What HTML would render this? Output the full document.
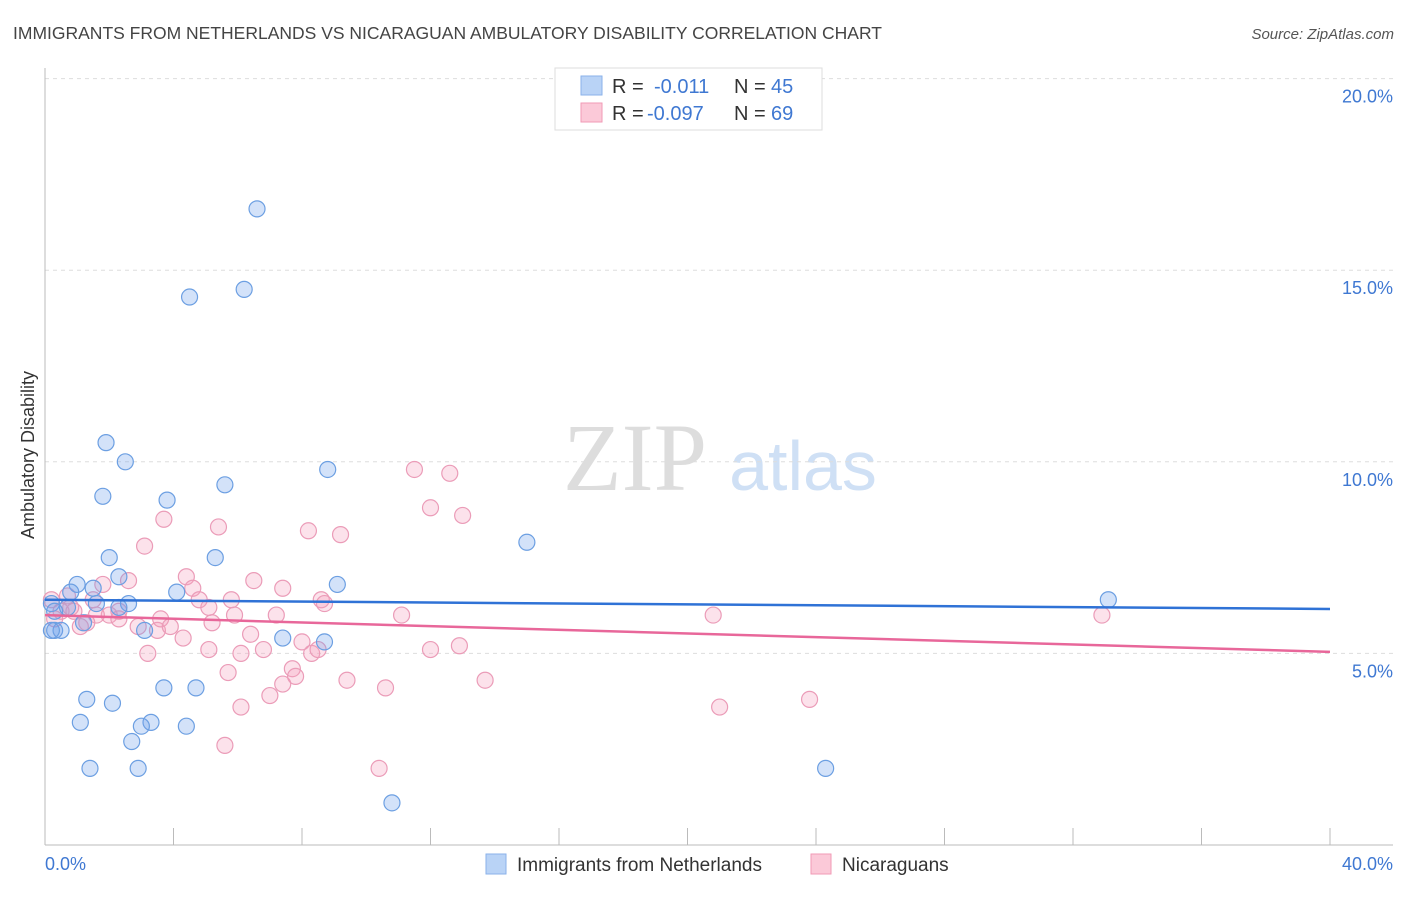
<!DOCTYPE html>
<html><head><meta charset="utf-8"><style>
body{margin:0;background:#fff;font-family:"Liberation Sans",sans-serif;}
svg text{font-family:"Liberation Sans",sans-serif;}
</style></head><body>
<svg id="chart" width="1406" height="892" xmlns="http://www.w3.org/2000/svg">
<text x="13" y="39" font-size="17.5" fill="#444">IMMIGRANTS FROM NETHERLANDS VS NICARAGUAN AMBULATORY DISABILITY CORRELATION CHART</text>
<text x="1394" y="39" font-size="15" fill="#555" font-style="italic" text-anchor="end">Source: ZipAtlas.com</text>
<text transform="translate(34,455) rotate(-90)" font-size="18" fill="#333" text-anchor="middle">Ambulatory Disability</text>
<g>
<text x="635" y="490" font-size="96" fill="#ddd" font-family="Liberation Serif,serif" text-anchor="middle" style="font-family:'Liberation Serif',serif">ZIP</text>
<text x="803" y="490" font-size="70" fill="#cfe0f5" text-anchor="middle">atlas</text>
</g>
<g id="grid"></g>
<g id="axes"></g>
<g id="points"></g>
<g id="trends"></g>
<g>
<rect x="555" y="68" width="267" height="62" fill="#fff" stroke="#ddd"/>
<rect x="581" y="76" width="21" height="19" fill="#b9d3f6" stroke="#8ab2ea"/>
<rect x="581" y="103" width="21" height="19" fill="#fbc9d8" stroke="#f09ab6"/>
<text x="612" y="93" font-size="20" fill="#333">R =</text>
<text x="654" y="93" font-size="20" fill="#3f78d2">-0.011</text>
<text x="734" y="93" font-size="20" fill="#333">N =</text>
<text x="771" y="93" font-size="20" fill="#3f78d2">45</text>
<text x="612" y="120" font-size="20" fill="#333">R =</text>
<text x="647" y="120" font-size="20" fill="#3f78d2">-0.097</text>
<text x="734" y="120" font-size="20" fill="#333">N =</text>
<text x="771" y="120" font-size="20" fill="#3f78d2">69</text>
</g>
<g>
<rect x="486" y="854" width="20" height="20" fill="#b9d3f6" stroke="#8ab2ea"/>
<text x="517" y="871" font-size="19" fill="#333">Immigrants from Netherlands</text>
<rect x="811" y="854" width="20" height="20" fill="#fbc9d8" stroke="#f09ab6"/>
<text x="842" y="871" font-size="19" fill="#333">Nicaraguans</text>
</g>
</svg>
<script>
const yTicks=[5,10,15,20];
const yTickLabels=["5.0%","10.0%","15.0%","20.0%"];
const xTickCount=10;
const xLabels=["0.0%","40.0%"];
const blueX=[6.6,4.5,6.2,1.9,2.5,1.8,3.8,5.6,8.8,15.0,2.0,5.3,2.3,1.0,1.5,0.8,4.1,9.1,2.6,1.6,2.3,0.7,0.2,1.2,3.1,0.3,0.5,0.2,7.4,8.7,33.1,1.3,2.1,3.7,4.7,1.1,3.3,3.0,4.4,2.7,1.4,2.9,24.3,10.8,0.3];
const blueY=[16.6,14.3,14.5,10.5,10.0,9.1,9.0,9.4,9.8,7.9,7.5,7.5,7.0,6.8,6.7,6.6,6.6,6.8,6.3,6.3,6.2,6.2,6.3,5.8,5.6,5.6,5.6,5.6,5.4,5.3,6.4,3.8,3.7,4.1,4.1,3.2,3.2,3.1,3.1,2.7,2.0,2.0,2.0,1.1,6.1];
const pinkX=[0.2,0.5,0.9,1.6,2.0,2.3,2.6,1.8,0.8,1.3,2.9,3.2,3.5,3.6,3.9,4.3,4.4,4.6,4.8,5.1,5.2,5.4,5.1,5.7,5.9,6.1,6.1,6.4,6.5,6.8,7.2,7.4,7.0,7.4,7.7,7.8,8.0,8.3,8.5,8.6,8.7,8.2,9.2,9.4,10.6,10.4,11.1,11.5,12.0,12.6,13.0,12.0,12.9,13.7,5.6,3.7,3.1,1.5,20.8,21.0,23.8,32.9,2.3,0.3,1.1,5.8,0.7];
const pinkY=[6.4,6.1,6.1,6.0,6.0,6.1,6.9,6.8,6.2,5.8,5.7,5.0,5.6,5.9,5.7,5.4,7.0,6.7,6.4,5.1,5.8,8.3,6.2,4.5,6.0,5.0,3.6,5.5,6.9,5.1,6.0,6.7,3.9,4.2,4.6,4.4,5.3,5.0,5.1,6.4,6.3,8.2,8.1,4.3,4.1,2.0,6.0,9.8,8.8,9.7,8.6,5.1,5.2,4.3,2.6,8.5,7.8,6.4,6.0,3.6,3.8,6.0,5.9,5.9,5.7,6.4,6.5];
const blueTrend=[6.40,6.16];
const pinkTrend=[6.00,5.04];
const NS="http://www.w3.org/2000/svg";
const X0=45,X1=1330,Y0=845,PXY=38.32;
function sx(v){return X0+(v/40)*(X1-X0);}
function sy(v){return Y0-v*PXY;}
function mk(tag,attrs,parent){const e=document.createElementNS(NS,tag);for(const k in attrs)e.setAttribute(k,attrs[k]);parent.appendChild(e);return e;}
const grid=document.getElementById('grid'),axes=document.getElementById('axes'),pts=document.getElementById('points'),tr=document.getElementById('trends');
yTicks.forEach((t,i)=>{
 const l=mk('line',{x1:X0,x2:1393,y1:sy(t),y2:sy(t),stroke:'#ddd','stroke-dasharray':'4,4'},grid);
 
 
 const tx=mk('text',{x:1393,y:sy(t)+24,'font-size':18,fill:'#3f78d2','text-anchor':'end'},axes);
 tx.textContent=yTickLabels[i];
 
 
});
const ax=mk('line',{x1:X0,x2:X0,y1:68,y2:Y0,stroke:'#bbb'},axes);


const bx=mk('line',{x1:X0,x2:1393,y1:Y0,y2:Y0,stroke:'#bbb'},axes);


for(let i=0;i<=xTickCount;i++){
 const x=sx(i*40/xTickCount);
 const t=mk('line',{x1:x,x2:x,y1:828,y2:Y0,stroke:'#bbb'},axes);
 
 
}
const xl0=mk('text',{x:45,y:870,'font-size':18,fill:'#3f78d2'},axes);xl0.textContent=xLabels[0];


const xl1=mk('text',{x:1393,y:870,'font-size':18,fill:'#3f78d2','text-anchor':'end'},axes);xl1.textContent=xLabels[1];


pinkX.forEach((v,i)=>{
 const c=mk('circle',{cx:sx(v),cy:sy(pinkY[i]),r:8,fill:'rgba(244,160,190,0.3)',stroke:'#eb9cb8','stroke-width':1.2},pts);
 
 
});
blueX.forEach((v,i)=>{
 const c=mk('circle',{cx:sx(v),cy:sy(blueY[i]),r:8,fill:'rgba(110,160,235,0.3)',stroke:'#6c9fe2','stroke-width':1.2},pts);
 
 
});
const bl=mk('line',{x1:sx(0),x2:sx(40),y1:sy(blueTrend[0]),y2:sy(blueTrend[1]),stroke:'#2f72d6','stroke-width':2.5},tr);


const pl=mk('line',{x1:sx(0),x2:sx(40),y1:sy(pinkTrend[0]),y2:sy(pinkTrend[1]),stroke:'#e8679a','stroke-width':2.5},tr);


</script>
</body></html>
